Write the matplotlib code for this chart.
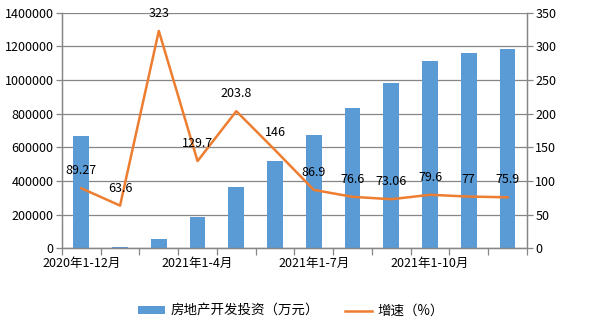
import numpy as np
import matplotlib
matplotlib.use('Agg')
import matplotlib.pyplot as plt
from matplotlib.ticker import FuncFormatter

plt.rcParams['font.family'] = ['Noto Sans CJK SC', 'DejaVu Sans']

categories = ['2020年1-12月', '2021年1-2月', '2021年1-3月', '2021年1-4月', '2021年1-5月',
              '2021年1-6月', '2021年1-7月', '2021年1-8月', '2021年1-9月', '2021年1-10月',
              '2021年1-11月', '2021年1-12月']
investment = [668000, 10000, 57000, 186000, 365000, 520000, 674000, 835000, 984000,
              1115000, 1162000, 1186000]
growth = [89.27, 63.6, 323, 129.7, 203.8, 146, 86.9, 76.6, 73.06, 79.6, 77, 75.9]
growth_labels = ['89.27', '63.6', '323', '129.7', '203.8', '146', '86.9', '76.6', '73.06',
                 '79.6', '77', '75.9']

bar_color = '#5B9BD5'
line_color = '#ED7D31'
gray = '#868686'
fs = 9

fig = plt.figure(figsize=(5.9, 3.26), dpi=100)
ax = fig.add_subplot(111)
fig.subplots_adjust(left=0.105, right=0.893, top=0.961, bottom=0.238)

x = np.arange(len(categories))
bars = ax.bar(x, investment, width=0.41, color=bar_color, zorder=2, label='房地产开发投资（万元）')
ax.set_ylim(0, 1400000)
ax.set_yticks(np.arange(0, 1400001, 200000))
ax.yaxis.set_major_formatter(FuncFormatter(lambda v, p: '%d' % v))
ax.set_xlim(-0.5, len(categories) - 0.5)
ax.grid(axis='y', color=gray, linewidth=0.9, zorder=0)
ax.set_axisbelow(True)

ax.set_xticks(x[::3])
ax.set_xticklabels(categories[::3], fontsize=fs)
ax.set_xticks(np.arange(-0.5, len(categories), 1), minor=True)
ax.tick_params(axis='x', which='major', length=0, pad=6)
ax.tick_params(axis='x', which='minor', length=5, color=gray, width=0.9)
ax.tick_params(axis='y', length=4, color=gray, width=0.9, labelsize=fs, pad=2)

ax2 = ax.twinx()
line, = ax2.plot(x, growth, color=line_color, linewidth=1.8, zorder=3, label='增速（%）')
ax2.set_ylim(0, 350)
ax2.set_yticks(np.arange(0, 351, 50))
ax2.tick_params(axis='y', length=4, color=gray, width=0.9, labelsize=fs, pad=2)

for xi, yi, lab in zip(x, growth, growth_labels):
    ax2.annotate(lab, (xi, yi), xytext=(0, 12.5), textcoords='offset points',
                 ha='center', va='center', fontsize=fs)

for a in (ax, ax2):
    a.spines['top'].set_visible(False)
    for s in ('left', 'right', 'bottom'):
        a.spines[s].set_color(gray)
        a.spines[s].set_linewidth(0.9)

fig.legend(handles=[bars, line], loc='center', bbox_to_anchor=(0.493, 0.046), ncol=2,
           frameon=False, fontsize=9.7, handlelength=2.0, handleheight=0.55,
           handletextpad=0.4, columnspacing=1.9)

fig.savefig('out.png', dpi=100)
